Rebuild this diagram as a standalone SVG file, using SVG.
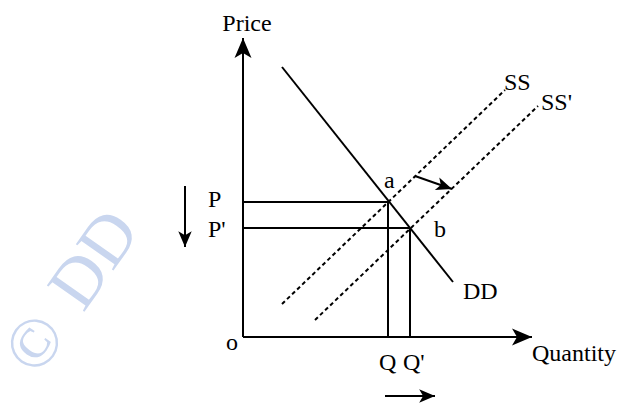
<svg xmlns="http://www.w3.org/2000/svg" width="619" height="403" viewBox="0 0 619 403">
<defs>
<style>
.ln{stroke:#000;stroke-width:2;fill:none}
.dash{stroke:#000;stroke-width:2;fill:none;stroke-dasharray:4 3}
.t{font-family:"Liberation Serif","Times New Roman",serif;font-size:24px;fill:#000}
.wm{font-family:"Liberation Serif","Times New Roman",serif;font-size:70px;fill:#c9d6ef;word-spacing:8px}
</style>
<marker id="ah" viewBox="-22 -10 24 20" refX="0" refY="0" markerWidth="24" markerHeight="20" markerUnits="userSpaceOnUse" orient="auto">
<path d="M0,0 L-20,-8.5 L-15,0 L-20,8.5 Z" fill="#000"/>
</marker>
<marker id="ahs" viewBox="-22 -10 24 20" refX="0" refY="0" markerWidth="19" markerHeight="16" markerUnits="userSpaceOnUse" orient="auto">
<path d="M0,0 L-20,-8.5 L-15,0 L-20,8.5 Z" fill="#000"/>
</marker>
</defs>
<rect width="619" height="403" fill="#fff"/>
<g id="watermark">
<text class="wm" transform="translate(38,378) rotate(-55)">© DD</text>
</g>
<g id="connectors">
<line id="y-axis" class="ln" x1="243" y1="337" x2="243" y2="38" marker-end="url(#ah)"/>
<line id="x-axis" class="ln" x1="243" y1="337" x2="532" y2="337" marker-end="url(#ah)"/>
<line id="DD" class="ln" x1="282" y1="67" x2="453" y2="282"/>
<line id="SS" class="dash" x1="282" y1="304" x2="505" y2="90"/>
<line id="SS2" class="dash" x1="315" y1="320" x2="538" y2="106"/>
<line id="P-line" class="ln" x1="243" y1="202" x2="388" y2="202"/>
<line id="P2-line" class="ln" x1="243" y1="228" x2="410" y2="228"/>
<line id="Q-line" class="ln" x1="388" y1="202" x2="388" y2="337"/>
<line id="Q2-line" class="ln" x1="410" y1="228" x2="410" y2="337"/>
<line id="shift-arrow" class="ln" x1="415" y1="176" x2="452" y2="189" marker-end="url(#ahs)"/>
<line id="price-down" class="ln" x1="185" y1="186" x2="185" y2="247" marker-end="url(#ahs)"/>
<line id="qty-right" class="ln" x1="385" y1="396" x2="435" y2="396" marker-end="url(#ahs)"/>
</g>
<g id="labels">
<text class="t" x="247" y="31" text-anchor="middle">Price</text>
<text class="t" x="532" y="361">Quantity</text>
<text class="t" x="504" y="90">SS</text>
<text class="t" x="541" y="110">SS'</text>
<text class="t" x="463" y="299">DD</text>
<text class="t" x="384" y="188">a</text>
<text class="t" x="434" y="237">b</text>
<text class="t" x="208" y="207">P</text>
<text class="t" x="208" y="237">P'</text>
<text class="t" x="226" y="350">o</text>
<text class="t" x="379" y="370">Q</text>
<text class="t" x="403" y="370">Q'</text>
</g>
</svg>
